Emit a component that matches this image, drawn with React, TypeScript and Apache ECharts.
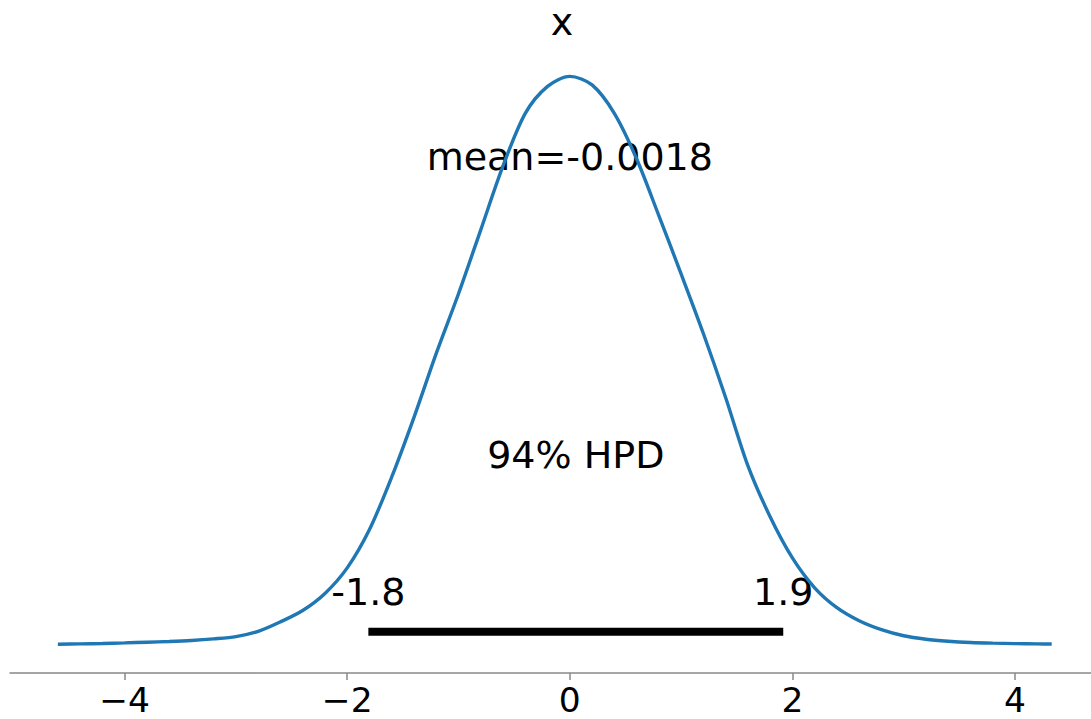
import React, { useEffect, useRef } from "react";
import * as echarts from "echarts";

// Posterior density estimate of x (evenly spaced sample grid and density values)
const curveX = [
  -4.6, -4.4, -4.2, -4.0, -3.8, -3.6, -3.4, -3.2, -3.0, -2.8, -2.6, -2.4, -2.2,
  -2.0, -1.8, -1.6, -1.4, -1.2, -1.0, -0.8, -0.6, -0.4, -0.2, 0, 0.2, 0.4, 0.6,
  0.8, 1.0, 1.2, 1.4, 1.6, 1.8, 2.0, 2.2, 2.4, 2.6, 2.8, 3.0, 3.2, 3.4, 3.6,
  3.8, 4.0, 4.2, 4.33,
];
const curveY = [
  0.0002, 0.0005, 0.0008, 0.0012, 0.0017, 0.0022, 0.0029, 0.004, 0.0056,
  0.0093, 0.016, 0.024, 0.036, 0.054, 0.081, 0.118, 0.16, 0.205, 0.247, 0.292,
  0.337, 0.374, 0.393, 0.4, 0.394, 0.374, 0.342, 0.302, 0.261, 0.219, 0.174,
  0.126, 0.09, 0.061, 0.04, 0.026, 0.0168, 0.0105, 0.0062, 0.0038, 0.0024,
  0.0015, 0.001, 0.0007, 0.0005, 0.0004,
];

// Summary statistics
const meanValue = -0.0018;
const hpdProb = 94;
const hpdBounds = [-1.81, 1.918];

// Axis ticks
const xTicks = [-4, -2, 0, 2, 4];

// Heights (in density units) for the interval bar and annotations
const hpdBarY = 0.009;
const hpdValueLabelY = 0.037;
const hpdTitleY = 0.1335;
const meanLabelY = 0.343;

const FONT = "DejaVu Sans";

export default function App() {
  const ref = useRef<HTMLDivElement>(null);

  useEffect(() => {
    if (!ref.current) return;
    const chart = echarts.init(ref.current, undefined, { renderer: "svg" });

    const curve = curveX.map((x, i) => [x, curveY[i]]);
    const hpdMid = (hpdBounds[0] + hpdBounds[1]) / 2;

    chart.setOption({
      animation: false,
      backgroundColor: "#fff",
      title: {
        text: "x",
        left: 557,
        top: -2,
        textAlign: "center",
        textStyle: {
          fontSize: 38,
          fontWeight: "normal",
          color: "#000",
          fontFamily: FONT,
        },
      },
      grid: {
        left: 10,
        width: 1094,
        top: 48,
        bottom: 46,
        containLabel: false,
        outerBoundsMode: "none",
      },
      xAxis: {
        type: "value",
        min: -5.03,
        max: 4.8,
        axisLine: {
          show: true,
          onZero: false,
          lineStyle: { color: "#888", width: 1.5 },
        },
        axisTick: {
          show: true,
          length: 7,
          lineStyle: { color: "#888", width: 1.5 },
          customValues: xTicks,
        },
        axisLabel: {
          show: true,
          customValues: xTicks,
          color: "#000",
          fontSize: 34.5,
          lineHeight: 24,
          fontFamily: FONT,
          margin: 15,
          formatter: (v: number) => (v < 0 ? "\u2212" + Math.abs(v) : String(v)),
        },
        splitLine: { show: false },
      },
      yAxis: {
        type: "value",
        min: -0.02,
        max: 0.42,
        show: false,
        splitLine: { show: false },
      },
      series: [
        {
          name: "x",
          type: "line",
          data: curve,
          smooth: 0.3,
          showSymbol: false,
          lineStyle: { color: "#1f77b4", width: 3.4 },
          silent: true,
        },
        {
          name: "HPD",
          type: "line",
          data: [
            [hpdBounds[0], hpdBarY],
            [hpdBounds[1], hpdBarY],
          ],
          showSymbol: false,
          lineStyle: { color: "#000", width: 8, cap: "butt" },
          silent: true,
        },
      ],
    });

    // Annotations placed at data coordinates
    const annotations: [number, number, string][] = [
      [0, meanLabelY, "mean=" + meanValue.toString()],
      [hpdMid, hpdTitleY, hpdProb + "% HPD"],
      [hpdBounds[0], hpdValueLabelY, hpdBounds[0].toFixed(1)],
      [hpdBounds[1], hpdValueLabelY, hpdBounds[1].toFixed(1)],
    ];
    const graphics = annotations.map(([x, y, text]) => {
      const [px, py] = chart.convertToPixel({ gridIndex: 0 }, [x, y]);
      return {
        type: "text",
        x: px,
        y: py,
        silent: true,
        style: {
          text,
          fill: "#000",
          fontSize: 38,
          fontFamily: FONT,
          align: "center",
          verticalAlign: "middle",
        },
      };
    });
    chart.setOption({ graphic: graphics });

    return () => chart.dispose();
  }, []);

  return (
    <div
      ref={ref}
      style={{ position: "fixed", left: 0, top: 0, width: 1091, height: 719 }}
    />
  );
}
